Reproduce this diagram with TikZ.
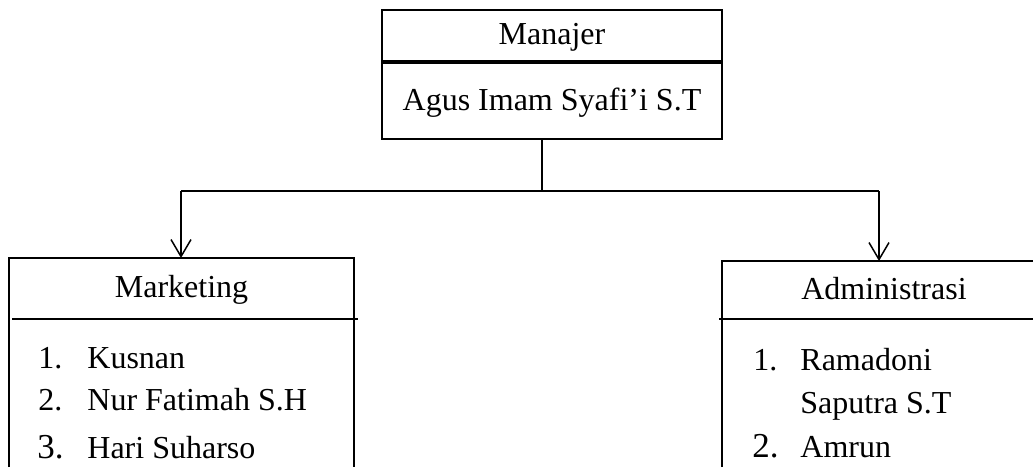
\documentclass[tikz,border=0pt]{standalone}
\usepackage{fontspec}
\setmainfont{Liberation Serif}
\usetikzlibrary{arrows.meta}
\tikzset{
	orgbox/.style={
			draw, line width=1pt, inner sep=0pt,
			font=\fontsize{16}{19}\selectfont,
			text height=12.5pt, text depth=3.5pt
		},
	member/.style={anchor=base west, inner sep=0pt, font=\fontsize{16}{19}\selectfont},
	bignum/.style={member, font=\fontsize{17.5}{20}\selectfont},
	link/.style={line width=0.75pt},
	branch/.style={link, -{Straight Barb[length=8.5pt,width=10pt,line width=0.75pt]}}
}

\begin{document}
\begin{tikzpicture}[x=0.5pt, y=-0.5pt]
        \clip (0,0) rectangle (1033,467);
        \coordinate (bottom) at (0, 467);
        % manajer
        \node[orgbox, minimum width=170pt, minimum height=25.5pt] (mgr) at (552, 35.5) {Manajer};
        \node[orgbox, minimum width=170pt, minimum height=38pt, anchor=north] (mgrname) at (mgr.south) {Agus Imam Syafi’i S.T};
        % cabang
        \coordinate (split) at (542, 191);
        \coordinate (lt) at (181, 191);
        \coordinate (rt) at (879, 191);
        \node[orgbox, draw=none, minimum width=171.5pt, minimum height=29.5pt] (mkt) at (181.5, 288.5) {Marketing};
        \node[orgbox, draw=none, minimum width=161pt, minimum height=28pt] (adm) at (884, 290) {Administrasi};
        \draw[link] (mgrname.south -| split) -- (split);
        \draw[link, line width=1.1pt] (lt) -- (rt);
        \draw[branch] (lt) -- (lt |- mkt.north);
        \draw[branch] (rt) -- (rt |- adm.north);
        % kotak marketing
        \draw[line width=1pt] (mkt.west |- bottom) -- (mkt.north west) -- (mkt.north east) -- (mkt.east |- bottom);
        \draw[line width=1.1pt] ([xshift=1.5pt]mkt.south west) -- ([xshift=2pt]mkt.south east);
        \node[member] (mnum1) at (38, 368) {1.};
        \node[member] (mname1) at (87, 368) {Kusnan};
        \node[member] (mnum2) at (38, 410) {2.};
        \node[member] (mname2) at (87, 410) {Nur Fatimah S.H};
        \node[bignum] (mnum3) at (37, 458) {3.};
        \node[member] (mname3) at (87, 458) {Hari Suharso};
        % kotak administrasi
        \draw[line width=1pt] (adm.west |- bottom) -- (adm.north west) -- (adm.north east);
        \draw[line width=1.1pt] ([xshift=-1.5pt]adm.south west) -- (adm.south east);
        \node[member] (anum1) at (753, 370) {1.};
        \node[member] (aname1) at (800, 370) {Ramadoni};
        \node[member] (aname1b) at (800, 413) {Saputra S.T};
        \node[bignum] (anum2) at (752, 457) {2.};
        \node[member] (aname2) at (800, 457) {Amrun};
    \end{tikzpicture}
\end{document}
